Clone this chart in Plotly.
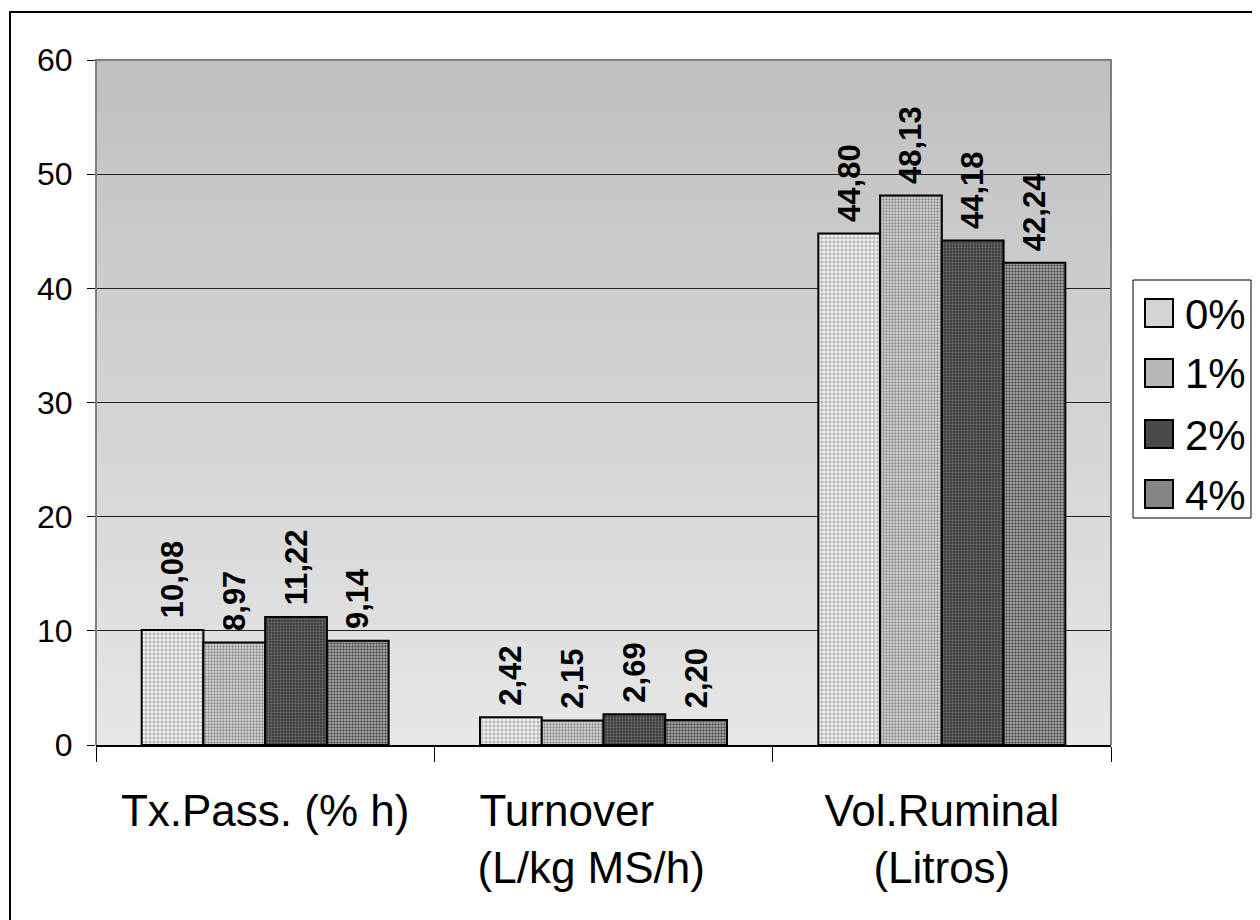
import plotly.graph_objects as go

categories = ["Tx.Pass. (% h)",
              "Turnover\u00a0\u00a0\u00a0\u00a0\u00a0\u00a0<br>(L/kg MS/h)\u00a0\u00a0",
              "Vol.Ruminal<br>(Litros)"]
series_names = ["0%", "1%", "2%", "4%"]
values_0 = [10.08, 2.42, 44.80]
values_1 = [8.97, 2.15, 48.13]
values_2 = [11.22, 2.69, 44.18]
values_4 = [9.14, 2.20, 42.24]
series_values = [values_0, values_1, values_2, values_4]

styles = [
    dict(bg="#f4f4f4", fg="#8c8c8c", shape="+", size=4, solidity=0.3, avg="#d4d4d4"),
    dict(bg="#d6d6d6", fg="#8a8a8a", shape=".", size=3, solidity=0.45, avg="#b8b8b8"),
    dict(bg="#363636", fg="#6e6e6e", shape=".", size=3, solidity=0.45, avg="#4a4a4a"),
    dict(bg="#b4b4b4", fg="#505050", shape=".", size=3, solidity=0.5, avg="#858585"),
]

W, H = 1252, 912
ML, MR, MT, MB = 88, 149, 52, 175
PW, PH = W - ML - MR, H - MT - MB


def px(X):  # screen x (reference picture) -> paper x
    return (X - 8 - ML) / PW


def py(Y):  # screen y (reference picture) -> paper y
    return (H - MB - (Y - 8)) / PH


fig = go.Figure()
for name, vals, st in zip(series_names, series_values, styles):
    fig.add_trace(go.Bar(
        x=categories, y=vals, name=name, showlegend=False,
        marker=dict(color=st["bg"], line=dict(color="black", width=2),
                    pattern=dict(shape=st["shape"], size=st["size"], solidity=st["solidity"],
                                 fgcolor=st["fg"], bgcolor=st["bg"], fillmode="replace")),
        texttemplate="\u00a0%{y:.2f}", textposition="outside", textangle=-90,
        textfont=dict(family="Arial, Liberation Sans", size=31, color="black", weight="bold"),
        constraintext="none", cliponaxis=False,
    ))

# vertical gradient background for the plot area
N = 80
shapes = []
top, bot = 192, 230
for i in range(N):
    t = i / (N - 1)
    c = int(round(bot + (top - bot) * t))
    shapes.append(dict(type="rect", xref="paper", yref="paper", x0=0, x1=1,
                       y0=i / N, y1=(i + 1) / N + 0.002, fillcolor=f"rgb({c},{c},{c})",
                       line=dict(width=0), layer="below"))
# gray frame: left, top, right
shapes.append(dict(type="path", xref="paper", yref="paper",
                   path="M 0,0 L 0,1 L 1,1 L 1,0", line=dict(color="#808080", width=2), layer="above"))
# outer chart border
shapes.append(dict(type="rect", xref="paper", yref="paper",
                   x0=px(10), x1=px(1300), y0=py(1000), y1=py(12),
                   line=dict(color="black", width=2), layer="above"))

# manual legend (large swatches like the reference)
annotations = []
shapes.append(dict(type="rect", xref="paper", yref="paper",
                   x0=px(1133), x1=px(1251), y0=py(518), y1=py(280),
                   fillcolor="white", line=dict(color="black", width=1), layer="above"))
centers = [313, 373, 434, 494]
for name, st, cy in zip(series_names, styles, centers):
    shapes.append(dict(type="rect", xref="paper", yref="paper",
                       x0=px(1145), x1=px(1173), y0=py(cy + 14), y1=py(cy - 14),
                       fillcolor=st["avg"], line=dict(color="black", width=2), layer="above"))
    annotations.append(dict(xref="paper", yref="paper", x=px(1183), y=py(cy + 1),
                            xanchor="left", yanchor="middle", text=name, showarrow=False,
                            font=dict(size=42, color="black", family="Arial, Liberation Sans")))

fig.update_layout(
    width=W, height=H,
    margin=dict(l=ML, r=MR, t=MT, b=MB),
    paper_bgcolor="white", plot_bgcolor="#d8d8d8",
    separators=",.",
    barmode="group", bargap=0.27, bargroupgap=0,
    font=dict(family="Arial, Liberation Sans", color="black"),
    shapes=shapes, annotations=annotations,
    showlegend=False,
)
fig.update_yaxes(range=[0, 60], dtick=10, ticks="outside", ticklen=8, tickcolor="black",
                 tickfont=dict(size=32), showgrid=True, gridcolor="#222222", gridwidth=1,
                 zeroline=False, showline=False, ticklabelstandoff=8)
fig.update_xaxes(tickson="boundaries", ticks="outside", ticklen=15, tickcolor="black",
                 tickfont=dict(size=44), showline=True, linecolor="black", linewidth=2,
                 ticklabelstandoff=26)

fig.write_html("out.html")
